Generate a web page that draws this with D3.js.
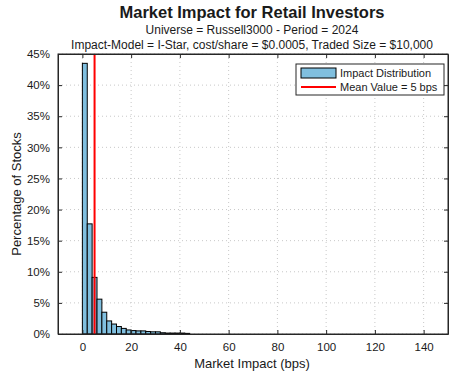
<!DOCTYPE html>
<html>
<head>
<meta charset="utf-8">
<script src="https://cdn.jsdelivr.net/npm/d3@7"></script>
<style>
  body { margin: 0; background: #fff; }
  text { font-family: "Liberation Sans", Arial, sans-serif; fill: #1a1a1a; }
</style>
</head>
<body>
<div id="container"></div>
<script>
// histogram bins (bps) and share of stocks (%)
const binStart = [0, 2, 4, 6, 8, 10, 12, 14, 16, 18, 20, 22, 24, 26, 28, 30, 32, 34, 36, 38, 40, 42];
const binWidth = 2;
const pctStocks = [43.5, 17.7, 9.1, 5.6, 3.5, 2.1, 1.6, 1.2, 0.9, 0.65, 0.55, 0.5, 0.5, 0.4, 0.35, 0.35, 0.2, 0.15, 0.15, 0.15, 0.15, 0.1];
const meanValue = 5;
const xTicks = [0, 20, 40, 60, 80, 100, 120, 140];
const yTicks = [0, 5, 10, 15, 20, 25, 30, 35, 40, 45];

const w = 467;
const h = 374;
const padL = 58, padR = 448, padT = 54, padB = 334;

const xScale = d3.scaleLinear().domain([-10, 150]).range([padL, padR]);
const yScale = d3.scaleLinear().domain([0, 45]).range([padB, padT]);

const svg = d3.select("#container")
              .append("svg")
              .attr("width", w)
              .attr("height", h);

// titles
svg.append("text").attr("x", 252).attr("y", 18).attr("text-anchor", "middle")
   .attr("font-size", 16.5).attr("font-weight", "bold")
   .text("Market Impact for Retail Investors");
svg.append("text").attr("x", 252).attr("y", 34).attr("text-anchor", "middle")
   .attr("font-size", 12)
   .text("Universe = Russell3000 - Period = 2024");
svg.append("text").attr("x", 252).attr("y", 49).attr("text-anchor", "middle")
   .attr("font-size", 12)
   .text("Impact-Model = I-Star, cost/share = $0.0005, Traded Size = $10,000");

// grid
svg.append("g").selectAll("line").data(xTicks).enter().append("line")
   .attr("x1", d => xScale(d)).attr("x2", d => xScale(d))
   .attr("y1", padT).attr("y2", padB)
   .attr("stroke", "#c8c8c8").attr("stroke-dasharray", "1,3");
svg.append("g").selectAll("line").data(yTicks).enter().append("line")
   .attr("x1", padL).attr("x2", padR)
   .attr("y1", d => yScale(d)).attr("y2", d => yScale(d))
   .attr("stroke", "#c8c8c8").attr("stroke-dasharray", "1,3");

// bars
svg.append("g").selectAll("rect")
   .data(binStart)
   .enter()
   .append("rect")
   .attr("x", d => xScale(d))
   .attr("width", d => xScale(d + binWidth) - xScale(d))
   .attr("y", (d, i) => yScale(pctStocks[i]))
   .attr("height", (d, i) => padB - yScale(pctStocks[i]))
   .attr("fill", "#80bfdf")
   .attr("stroke", "#000")
   .attr("stroke-width", 1);

// mean line
svg.append("line")
   .attr("x1", xScale(meanValue)).attr("x2", xScale(meanValue))
   .attr("y1", padT).attr("y2", padB)
   .attr("stroke", "#ff0000").attr("stroke-width", 2);

// axes (MATLAB style: inward ticks on all sides)
const xAxis = d3.axisBottom(xScale).tickValues(xTicks).tickSizeInner(-4).tickSizeOuter(0).tickPadding(9);
const yAxis = d3.axisLeft(yScale).tickValues(yTicks).tickFormat(d => d + "%").tickSizeInner(-4).tickSizeOuter(0).tickPadding(8);

svg.append("g").attr("transform", "translate(0," + padB + ")").call(xAxis)
   .call(g => g.selectAll("text").attr("font-size", 11.5).attr("fill", "#262626"));
svg.append("g").attr("transform", "translate(" + padL + ",0)").call(yAxis)
   .call(g => g.selectAll("text").attr("font-size", 11.5).attr("fill", "#262626"));
svg.append("g").attr("transform", "translate(0," + padT + ")")
   .call(d3.axisTop(xScale).tickValues(xTicks).tickSizeInner(-4).tickSizeOuter(0).tickFormat(""));
svg.append("g").attr("transform", "translate(" + padR + ",0)")
   .call(d3.axisRight(yScale).tickValues(yTicks).tickSizeInner(-4).tickSizeOuter(0).tickFormat(""));
svg.selectAll(".domain").attr("stroke", "#262626");
svg.selectAll(".tick line").attr("stroke", "#262626");

svg.append("rect").attr("x", padL).attr("y", padT)
   .attr("width", padR - padL).attr("height", padB - padT)
   .attr("fill", "none").attr("stroke", "#262626").attr("stroke-width", 1);

// axis labels
svg.append("text").attr("x", 252).attr("y", 368).attr("text-anchor", "middle")
   .attr("font-size", 13).attr("fill", "#262626").text("Market Impact (bps)");
svg.append("text").attr("transform", "translate(21," + ((padT + padB) / 2) + ") rotate(-90)")
   .attr("text-anchor", "middle").attr("font-size", 13).attr("fill", "#262626")
   .text("Percentage of Stocks");

// legend
const lg = svg.append("g").attr("transform", "translate(296,64)");
lg.append("rect").attr("width", 148).attr("height", 31)
  .attr("fill", "#fff").attr("stroke", "#262626");
lg.append("rect").attr("x", 5).attr("y", 4).attr("width", 35).attr("height", 10)
  .attr("fill", "#80bfdf").attr("stroke", "#000");
lg.append("text").attr("x", 44).attr("y", 13).attr("font-size", 11).text("Impact Distribution");
lg.append("line").attr("x1", 5).attr("x2", 40).attr("y1", 23).attr("y2", 23)
  .attr("stroke", "#ff0000").attr("stroke-width", 2);
lg.append("text").attr("x", 44).attr("y", 27).attr("font-size", 11).text("Mean Value = 5 bps");
</script>
</body>
</html>
